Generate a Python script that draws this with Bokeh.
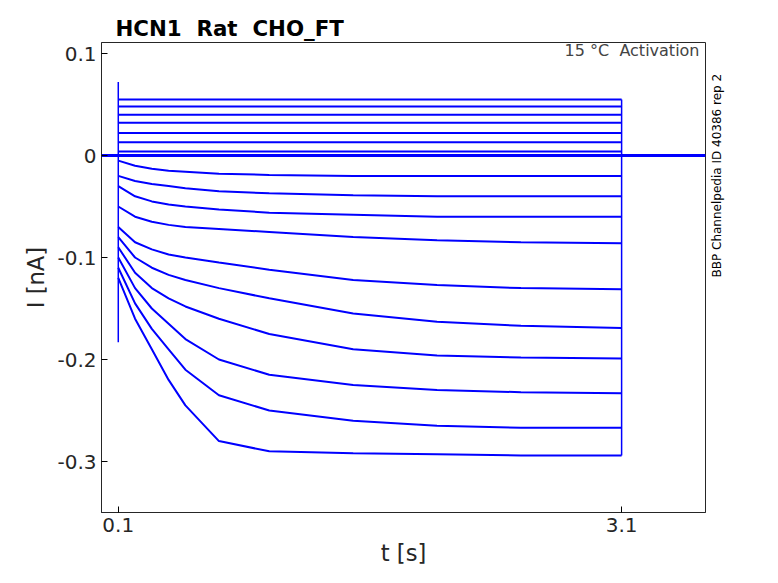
import numpy as np
from bokeh.plotting import figure
from bokeh.models import Label, FixedTicker, Range1d, LinearAxis
from bokeh.embed import file_html
from bokeh.resources import INLINE

T = [0.1, 0.2, 0.3, 0.4, 0.5, 0.7, 1.0, 1.5, 2.0, 2.5, 3.1]
traces = [
    [0.055]*11, [0.048]*11, [0.040]*11, [0.032]*11, [0.022]*11, [0.013]*11, [0.004]*11,
    [-0.005,-0.01,-0.013,-0.015,-0.016,-0.018,-0.019,-0.02,-0.02,-0.02,-0.02],
    [-0.02,-0.025,-0.028,-0.03,-0.032,-0.035,-0.037,-0.039,-0.04,-0.04,-0.04],
    [-0.03,-0.04,-0.045,-0.048,-0.05,-0.053,-0.056,-0.058,-0.06,-0.06,-0.06],
    [-0.05,-0.06,-0.065,-0.068,-0.07,-0.072,-0.075,-0.08,-0.083,-0.085,-0.086],
    [-0.07,-0.085,-0.092,-0.097,-0.1,-0.105,-0.112,-0.122,-0.127,-0.13,-0.131],
    [-0.08,-0.1,-0.11,-0.117,-0.122,-0.13,-0.14,-0.155,-0.163,-0.167,-0.169],
    [-0.09,-0.115,-0.13,-0.14,-0.148,-0.16,-0.175,-0.19,-0.196,-0.198,-0.199],
    [-0.1,-0.13,-0.15,-0.165,-0.18,-0.2,-0.215,-0.225,-0.23,-0.232,-0.233],
    [-0.11,-0.145,-0.17,-0.19,-0.21,-0.235,-0.25,-0.26,-0.265,-0.267,-0.267],
    [-0.12,-0.16,-0.19,-0.22,-0.245,-0.28,-0.29,-0.292,-0.293,-0.294,-0.294],
]
spike_hi, spike_lo = 0.072, -0.183
x_ticks = [0.1, 3.1]
y_ticks = [0.1, 0, -0.1, -0.2, -0.3]
y_labels = {0.1: "0.1", 0: "0", -0.1: "-0.1", -0.2: "-0.2", -0.3: "-0.3"}

F = "DejaVu Sans"
p = figure(frame_width=604, frame_height=470, output_backend="svg", toolbar_location=None,
           x_range=Range1d(0, 3.6), y_range=Range1d(-0.35, 0.1108),
           min_border_left=101, min_border_right=30, min_border_top=42, min_border_bottom=55)
p.title.text = "HCN1\u00a0\u00a0Rat\u00a0\u00a0CHO_FT"
p.title.text_font = F
p.title.text_font_size = "16pt"
p.title.text_color = "black"
p.title.offset = 14
p.title.standoff = 4
p.grid.visible = False
p.outline_line_color = "#262626"
p.background_fill_color = "white"

p.line([0, 0.1, 3.1, 3.6], [0, 0, 0, 0], color="blue", line_width=3)
p.line([0.1, 0.1], [spike_lo, spike_hi], color="blue", line_width=1.5)
for tr in traces:
    p.line(T, tr, color="blue", line_width=2)
p.line([3.1, 3.1], [min(min(t) for t in traces), max(max(t) for t in traces)], color="blue", line_width=1.5)

p.xaxis.ticker = FixedTicker(ticks=x_ticks)
p.yaxis.ticker = FixedTicker(ticks=y_ticks)
p.yaxis.major_label_overrides = y_labels
for ax in (p.xaxis[0], p.yaxis[0]):
    ax.major_label_text_font = F
    ax.major_label_text_font_size = "15pt"
    ax.axis_label_text_font = F
    ax.axis_label_text_font_size = "17pt"
    ax.axis_label_text_font_style = "normal"
    ax.minor_tick_line_color = None
    ax.major_tick_in = 6
    ax.major_tick_out = 0
    ax.axis_line_color = "#262626"
    ax.major_label_text_color = "#262626"
    ax.axis_label_text_color = "#262626"
p.xaxis.axis_label = "t [s]"
p.yaxis.axis_label = "I [nA]"

rax = LinearAxis(ticker=FixedTicker(ticks=[]), axis_line_color=None, major_tick_line_color=None,
                 minor_tick_line_color=None, major_label_text_font_size="0pt",
                 axis_label="BBP Channelpedia ID 40386 rep 2", axis_label_text_font=F,
                 axis_label_text_font_size="9pt", axis_label_text_font_style="normal",
                 axis_label_text_color="black", axis_label_standoff=11,
                 axis_label_orientation=np.pi/2)
p.add_layout(rax, "right")

p.add_layout(Label(x=598, y=462, x_units="screen", y_units="screen", text="15 °C\u00a0\u00a0Activation",
                   text_font=F, text_font_size="12pt", text_align="right", text_baseline="middle"))

open("out.html", "w").write(file_html(p, INLINE))
